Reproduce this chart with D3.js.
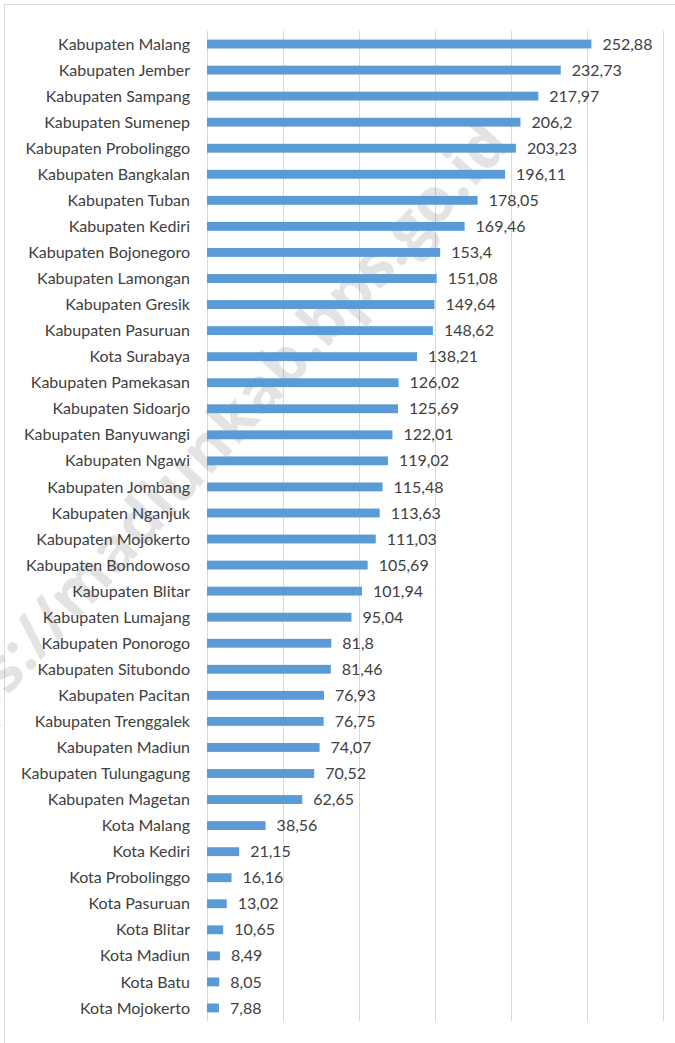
<!DOCTYPE html>
<html>
<head>
<meta charset="utf-8">
<script src="https://cdn.jsdelivr.net/npm/d3@7"></script>
<style>
  body { margin: 0; background: #fff; }
  svg text { font-family: Lato, "Open Sans", sans-serif; }
</style>
</head>
<body>
<div id="viz"></div>
<script>
const regions = [
  'Kabupaten Malang', 'Kabupaten Jember', 'Kabupaten Sampang', 'Kabupaten Sumenep',
  'Kabupaten Probolinggo', 'Kabupaten Bangkalan', 'Kabupaten Tuban', 'Kabupaten Kediri',
  'Kabupaten Bojonegoro', 'Kabupaten Lamongan', 'Kabupaten Gresik', 'Kabupaten Pasuruan',
  'Kota Surabaya', 'Kabupaten Pamekasan', 'Kabupaten Sidoarjo', 'Kabupaten Banyuwangi',
  'Kabupaten Ngawi', 'Kabupaten Jombang', 'Kabupaten Nganjuk', 'Kabupaten Mojokerto',
  'Kabupaten Bondowoso', 'Kabupaten Blitar', 'Kabupaten Lumajang', 'Kabupaten Ponorogo',
  'Kabupaten Situbondo', 'Kabupaten Pacitan', 'Kabupaten Trenggalek', 'Kabupaten Madiun',
  'Kabupaten Tulungagung', 'Kabupaten Magetan', 'Kota Malang', 'Kota Kediri',
  'Kota Probolinggo', 'Kota Pasuruan', 'Kota Blitar', 'Kota Madiun', 'Kota Batu', 'Kota Mojokerto',
];

const values = [
  252.88, 232.73, 217.97, 206.2, 203.23, 196.11, 178.05, 169.46,
  153.4, 151.08, 149.64, 148.62, 138.21, 126.02, 125.69, 122.01,
  119.02, 115.48, 113.63, 111.03, 105.69, 101.94, 95.04, 81.8,
  81.46, 76.93, 76.75, 74.07, 70.52, 62.65, 38.56, 21.15,
  16.16, 13.02, 10.65, 8.49, 8.05, 7.88,
];

const xTicks = [0, 50, 100, 150, 200, 250, 300];

const width = 675;
const height = 1043;
const margin = { top: 31, right: 12, bottom: 21, left: 207 };

const svg = d3.select('#viz')
  .append('svg')
  .attr('width', width)
  .attr('height', height);

// chart frame, only left and top edges show in the picture
svg.append('rect')
  .attr('x', 4.5)
  .attr('y', 4.5)
  .attr('width', width + 10)
  .attr('height', height + 10)
  .attr('fill', '#fff')
  .attr('stroke', '#d9d9d9');

const x = d3.scaleLinear()
  .domain([0, 300])
  .range([margin.left, width - margin.right]);

const y = d3.scaleBand()
  .domain(regions)
  .range([margin.top, height - margin.bottom - 1])
  .paddingInner(0.66)
  .paddingOuter(0.33);

// gridlines
svg.append('g')
  .selectAll('line')
  .data(xTicks)
  .enter()
  .append('line')
  .attr('x1', d => Math.round(x(d)) + 0.5)
  .attr('x2', d => Math.round(x(d)) + 0.5)
  .attr('y1', margin.top)
  .attr('y2', height - margin.bottom - 1)
  .attr('stroke', '#d9d9d9')
  .attr('stroke-width', 1);

// watermark
svg.append('text')
  .text('https://madiunkab.bps.go.id')
  .attr('transform', 'translate(512, 146) rotate(-47.5)')
  .attr('text-anchor', 'end')
  .style('font-family', '"Open Sans", sans-serif')
  .style('font-weight', 700)
  .style('font-size', '62px')
  .style('fill', '#000')
  .style('fill-opacity', 0.11);

const rows = svg.append('g')
  .selectAll('g')
  .data(regions.map((r, i) => ({ region: r, value: values[i] })))
  .enter()
  .append('g');

rows.append('rect')
  .attr('x', x(0))
  .attr('y', d => y(d.region))
  .attr('width', d => x(d.value) - x(0))
  .attr('height', y.bandwidth())
  .attr('fill', '#5b9bd5');

rows.append('text')
  .text(d => d.region)
  .attr('x', margin.left - 17)
  .attr('y', d => y(d.region) + y.bandwidth() / 2)
  .attr('dy', '0.35em')
  .attr('text-anchor', 'end')
  .style('font-size', '16px')
  .style('fill', '#404040');

rows.append('text')
  .text(d => String(d.value).replace('.', ','))
  .attr('x', d => x(d.value) + 11)
  .attr('y', d => y(d.region) + y.bandwidth() / 2)
  .attr('dy', '0.35em')
  .style('font-size', '16px')
  .style('fill', '#404040');
</script>
</body>
</html>
